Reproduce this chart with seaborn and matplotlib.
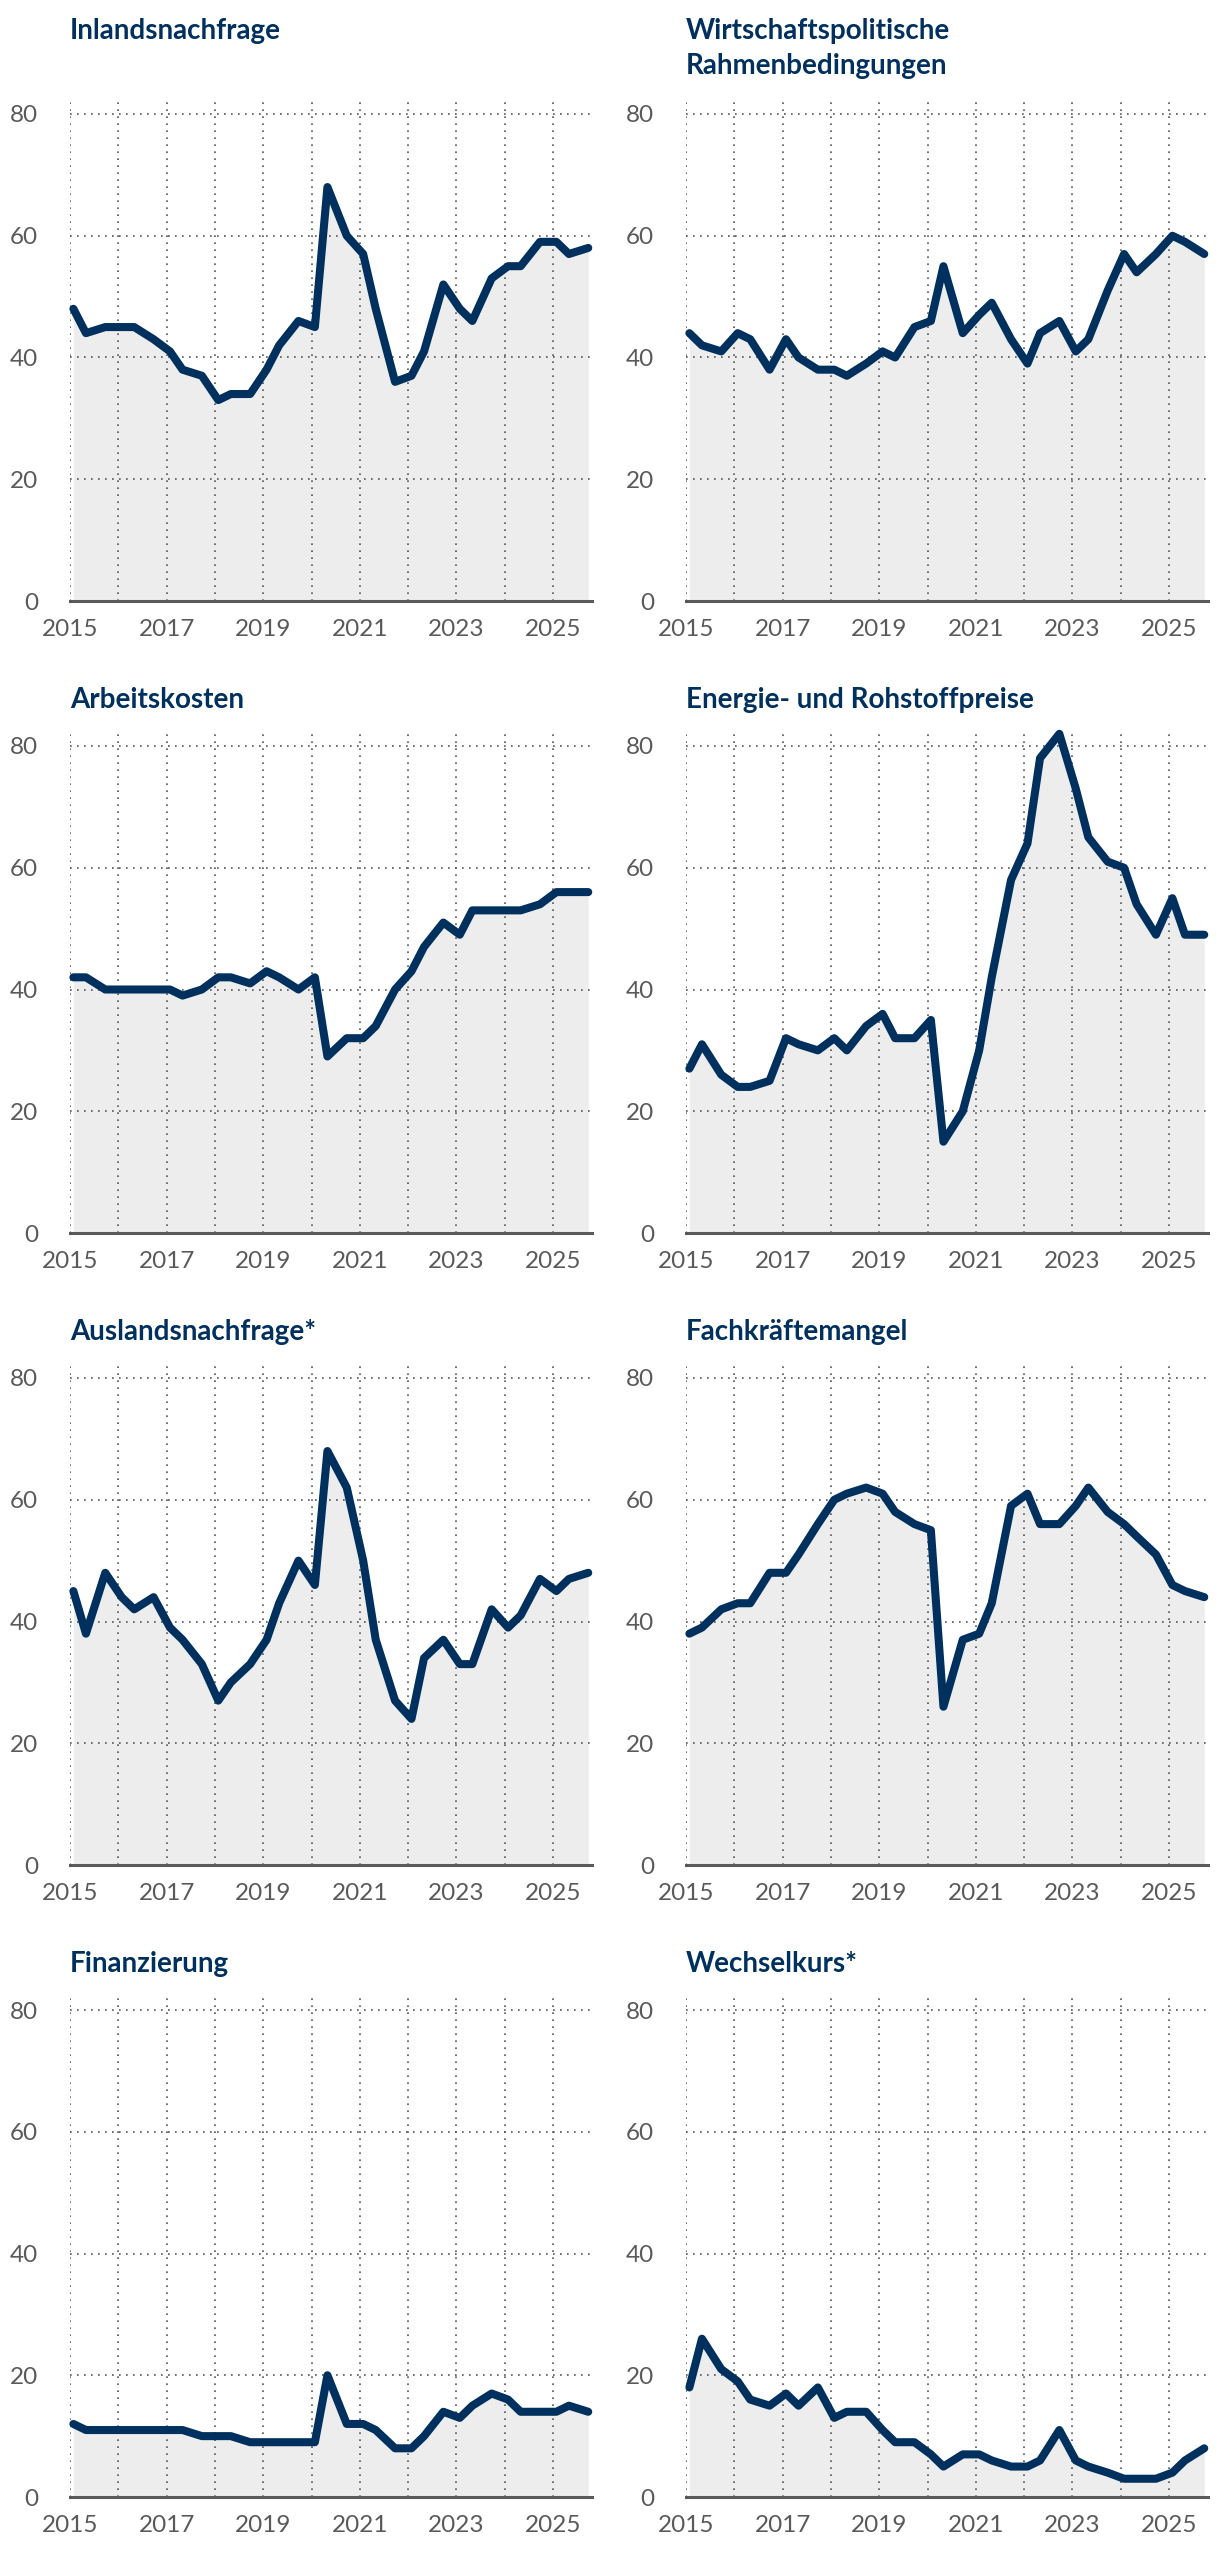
import matplotlib
matplotlib.use("Agg")
import matplotlib.pyplot as plt
import numpy as np
import pandas as pd
import seaborn as sns

# ---------------- data ----------------
years = list(range(2015, 2026))
survey_offsets = [0.07, 0.33, 0.73]          # early-year, spring and autumn survey
dates = [y + o for y in years for o in survey_offsets]

titles = [
    "Inlandsnachfrage",
    "Wirtschaftspolitische\nRahmenbedingungen",
    "Arbeitskosten",
    "Energie- und Rohstoffpreise",
    "Auslandsnachfrage*",
    "Fachkräftemangel",
    "Finanzierung",
    "Wechselkurs*",
]

inlandsnachfrage = [48, 44, 45, 45, 45, 43, 41, 38, 37, 33, 34, 34, 38, 42, 46, 45, 68,
                    60, 57, 48, 36, 37, 41, 52, 48, 46, 53, 55, 55, 59, 59, 57, 58]
wirtschaftspolitik = [44, 42, 41, 44, 43, 38, 43, 40, 38, 38, 37, 39, 41, 40, 45, 46, 55,
                      44, 47, 49, 43, 39, 44, 46, 41, 43, 51, 57, 54, 57, 60, 59, 57]
arbeitskosten = [42, 42, 40, 40, 40, 40, 40, 39, 40, 42, 42, 41, 43, 42, 40, 42, 29,
                 32, 32, 34, 40, 43, 47, 51, 49, 53, 53, 53, 53, 54, 56, 56, 56]
energie = [27, 31, 26, 24, 24, 25, 32, 31, 30, 32, 30, 34, 36, 32, 32, 35, 15,
           20, 30, 42, 58, 64, 78, 82, 73, 65, 61, 60, 54, 49, 55, 49, 49]
auslandsnachfrage = [45, 38, 48, 44, 42, 44, 39, 37, 33, 27, 30, 33, 37, 43, 50, 46, 68,
                     62, 50, 37, 27, 24, 34, 37, 33, 33, 42, 39, 41, 47, 45, 47, 48]
fachkraefte = [38, 39, 42, 43, 43, 48, 48, 51, 56, 60, 61, 62, 61, 58, 56, 55, 26,
               37, 38, 43, 59, 61, 56, 56, 59, 62, 58, 56, 54, 51, 46, 45, 44]
finanzierung = [12, 11, 11, 11, 11, 11, 11, 11, 10, 10, 10, 9, 9, 9, 9, 9, 20,
                12, 12, 11, 8, 8, 10, 14, 13, 15, 17, 16, 14, 14, 14, 15, 14]
wechselkurs = [18, 26, 21, 19, 16, 15, 17, 15, 18, 13, 14, 14, 11, 9, 9, 7, 5,
               7, 7, 6, 5, 5, 6, 11, 6, 5, 4, 3, 3, 3, 4, 6, 8]

series = [inlandsnachfrage, wirtschaftspolitik, arbeitskosten, energie,
          auslandsnachfrage, fachkraefte, finanzierung, wechselkurs]

y_ticks = [0, 20, 40, 60, 80]
x_tick_years = [2015, 2017, 2019, 2021, 2023, 2025]
x_grid_years = years

# ---------------- style ----------------
sns.set_theme(style="white")
plt.rcParams["font.family"] = ["Lato", "DejaVu Sans"]

NAVY = "#00305e"
FILL = "#ededed"
GREY = "#5a5a5a"
GRID = "#555555"

W, H = 1220, 2556
fig = plt.figure(figsize=(W / 100, H / 100), dpi=100)

px_per_year = 48.3
x_min, x_max = 2015.0, 2025.8
col_x0 = [70, 686]
row_y0 = [601, 1233, 1865, 2497]       # pixel row of the zero line
unit = 487.0 / 80.0                      # pixels per value unit
y_top = 82
ax_h = unit * y_top
ax_w = px_per_year * (x_max - x_min)
title_base = [39, 708, 1340, 1972]

for i, (title, vals) in enumerate(zip(titles, series)):
    r, c = divmod(i, 2)
    left = col_x0[c]
    bottom = row_y0[r]
    ax = fig.add_axes([left / W, 1 - bottom / H, ax_w / W, ax_h / H])

    df = pd.DataFrame({"date": dates, "value": vals})
    ax.fill_between(df["date"], 0, df["value"], color=FILL, linewidth=0, zorder=1)
    sns.lineplot(data=df, x="date", y="value", ax=ax, color=NAVY, linewidth=5.8,
                 legend=False, zorder=4, clip_on=False,
                 solid_capstyle="round", solid_joinstyle="round")

    ax.set_xlim(x_min, x_max)
    ax.set_ylim(0, y_top)
    ax.set_xlabel("")
    ax.set_ylabel("")

    ax.set_yticks(y_ticks)
    ax.set_yticklabels([str(t) for t in y_ticks])
    ax.set_xticks(x_grid_years)
    ax.set_xticklabels([str(yv) if yv in x_tick_years else "" for yv in x_grid_years])

    ax.set_axisbelow("line")
    ax.grid(True, which="major", axis="both", color=GRID, linewidth=1.2,
            linestyle=(0, (1, 3.2)))

    for side in ["left", "right", "top"]:
        ax.spines[side].set_visible(False)
    ax.spines["bottom"].set_color(GREY)
    ax.spines["bottom"].set_linewidth(2.2)
    ax.spines["bottom"].set_zorder(5)

    ax.tick_params(axis="y", length=0, pad=23, labelsize=17.5, labelcolor=GREY)
    ax.tick_params(axis="x", length=0, pad=13, labelsize=17.5, labelcolor=GREY)
    ax.set_facecolor("none")

    lines = title.split("\n")
    for k, line in enumerate(lines):
        fig.text(left / W, 1 - (title_base[r] + 35 * k) / H, line,
                 ha="left", va="baseline", fontsize=20, fontweight="bold",
                 color=NAVY)

fig.savefig("out.png", dpi=100, facecolor="white")
